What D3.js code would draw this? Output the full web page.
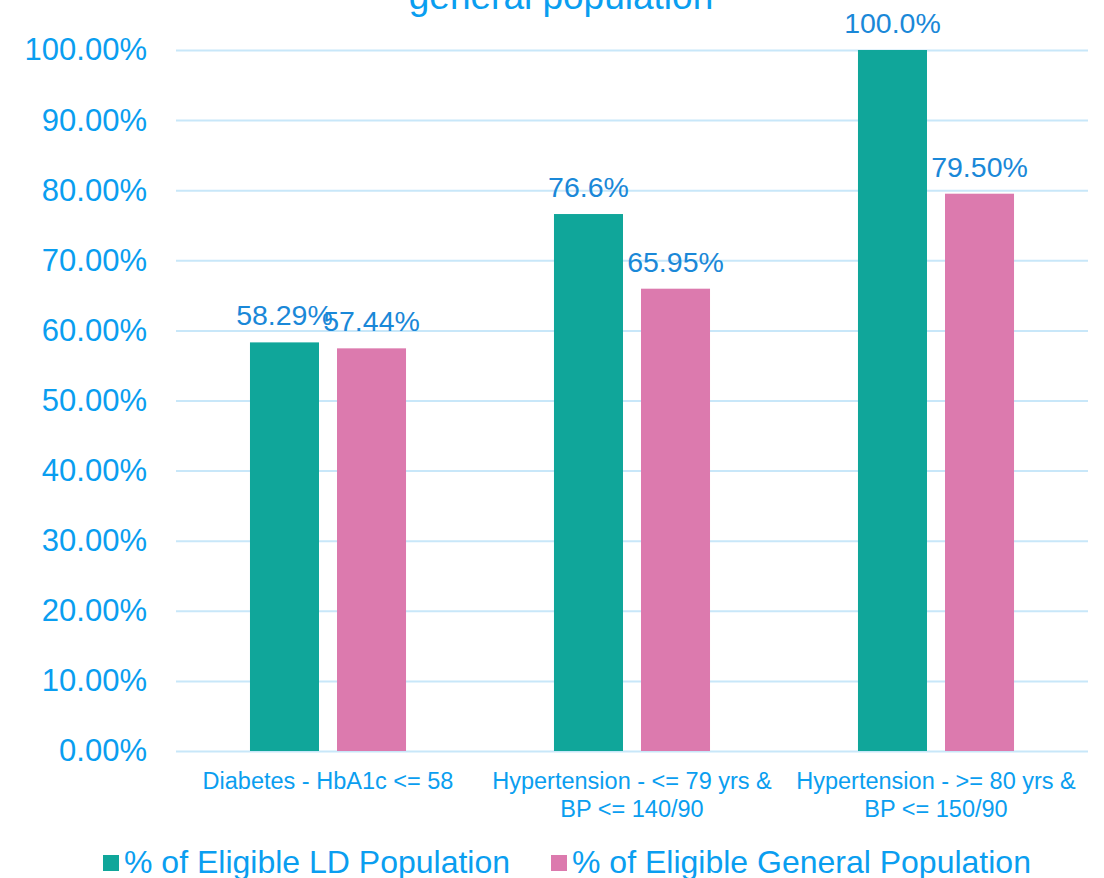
<!DOCTYPE html>
<html>
<head>
<meta charset="utf-8">
<script src="https://cdn.jsdelivr.net/npm/d3@7"></script>
<style>
  html, body { margin: 0; padding: 0; background: #fff; }
  svg { display: block; font-family: "Liberation Sans", Arial, sans-serif; }
</style>
</head>
<body>
<svg width="1104" height="878"></svg>
<script>
const categories = [
  ['Diabetes - HbA1c <= 58'],
  ['Hypertension - <= 79 yrs &', 'BP <= 140/90'],
  ['Hypertension - >= 80 yrs &', 'BP <= 150/90']
];
const seriesNames = ['% of Eligible LD Population', '% of Eligible General Population'];
const ldValues = [58.29, 76.6, 100.0];
const generalValues = [57.44, 65.95, 79.50];
const ldLabels = ['58.29%', '76.6%', '100.0%'];
const generalLabels = ['57.44%', '65.95%', '79.50%'];
const yTicks = [0, 10, 20, 30, 40, 50, 60, 70, 80, 90, 100];
const colors = ['#10A69A', '#DC7AAE'];

const svg = d3.select('svg');
const plotLeft = 176, plotRight = 1088, plotTop = 50, plotBottom = 751;

const xScale = d3.scaleBand()
  .domain(d3.range(categories.length))
  .range([plotLeft, plotRight]);
const xInner = d3.scaleBand()
  .domain([0, 1])
  .range([0, xScale.bandwidth()])
  .paddingInner(0.207)
  .paddingOuter(0.85);
const yScale = d3.scaleLinear().domain([0, 100]).range([plotBottom, plotTop]);

// gridlines + y labels
const yAxis = d3.axisLeft(yScale)
  .tickValues(yTicks)
  .tickFormat(d => d3.format('.2f')(d) + '%')
  .tickSize(0)
  .tickPadding(29);

svg.append('g')
    .attr('transform', `translate(${plotLeft},0)`)
    .call(yAxis)
    .call(g => g.select('.domain').remove())
    .call(g => g.selectAll('.tick text')
      .attr('fill', '#0A9EF0')
      .attr('font-size', 31)
      .attr('font-family', '"Liberation Sans", Arial, sans-serif'))
    .call(g => g.selectAll('.tick line')
      .clone()
        .attr('x2', plotRight - plotLeft)
        .attr('stroke', '#C8E7F9')
        .attr('stroke-width', 2));

// bars
const rows = categories.map((c, i) => [
  {cat: i, s: 0, value: ldValues[i], label: ldLabels[i]},
  {cat: i, s: 1, value: generalValues[i], label: generalLabels[i]}
]).flat();

svg.append('g')
  .selectAll('rect')
  .data(rows)
  .join('rect')
    .attr('x', d => xScale(d.cat) + xInner(d.s))
    .attr('y', d => yScale(d.value))
    .attr('width', xInner.bandwidth())
    .attr('height', d => yScale(0) - yScale(d.value))
    .attr('fill', d => colors[d.s]);

svg.append('g')
  .selectAll('text')
  .data(rows)
  .join('text')
    .attr('x', d => xScale(d.cat) + xInner(d.s) + xInner.bandwidth() / 2)
    .attr('y', d => yScale(d.value) - 17)
    .attr('text-anchor', 'middle')
    .attr('font-size', 28.5)
    .attr('fill', '#1A88D8')
    .text(d => d.label);

// category labels
const catG = svg.append('g')
  .selectAll('text')
  .data(categories)
  .join('text')
    .attr('x', (d, i) => xScale(i) + xScale.bandwidth() / 2)
    .attr('y', 789)
    .attr('text-anchor', 'middle')
    .attr('font-size', 23.5)
    .attr('fill', '#0A9EF0');
catG.selectAll('tspan')
  .data(d => d)
  .join('tspan')
    .attr('x', function() { return this.parentNode.getAttribute('x'); })
    .attr('dy', (d, i) => i === 0 ? 0 : 28)
    .text(d => d);

// title (cut off at top, as in the reference)
svg.append('text')
  .attr('x', 561)
  .attr('y', 9)
  .attr('text-anchor', 'middle')
  .attr('font-size', 37)
  .attr('fill', '#0A9EF0')
  .text('general population');

// legend
const legendX = [103, 551];
const legend = svg.append('g')
  .selectAll('g')
  .data(seriesNames)
  .join('g')
    .attr('transform', (d, i) => `translate(${legendX[i]},0)`);
legend.append('rect')
  .attr('x', 0).attr('y', 855)
  .attr('width', 16).attr('height', 16)
  .attr('fill', (d, i) => colors[i]);
legend.append('text')
  .attr('x', 21).attr('y', 873)
  .attr('font-size', 32)
  .attr('fill', '#0A9EF0')
  .text(d => d);
</script>
</body>
</html>
